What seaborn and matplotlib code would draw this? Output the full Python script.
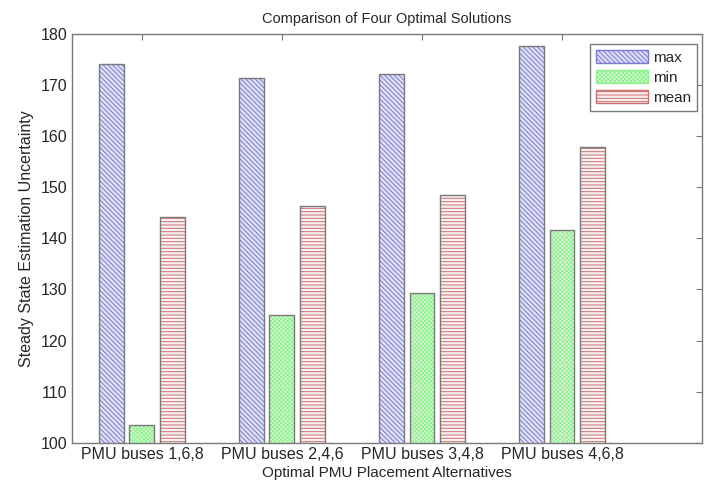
import pandas as pd
import matplotlib.pyplot as plt
import matplotlib.patches as mpatches
import seaborn as sns

alternatives = ["PMU buses 1,6,8", "PMU buses 2,4,6", "PMU buses 3,4,8", "PMU buses 4,6,8"]
max_vals = [174.1, 171.5, 172.1, 177.6]
min_vals = [103.4, 124.9, 129.3, 141.6]
mean_vals = [144.2, 146.3, 148.5, 157.9]
stats = ["max", "min", "mean"]

df = pd.DataFrame({"alt": alternatives, "max": max_vals, "min": min_vals, "mean": mean_vals})
df = df.melt(id_vars="alt", var_name="stat", value_name="value")

face = {"max": "#dcdcf8", "min": "#dcfcd6", "mean": "#fbeeee"}
hatch_col = {"max": "#7a7ad0", "min": "#8ef08e", "mean": "#c87070"}
hatches = {"max": "\\\\\\\\\\\\\\", "min": "xxxxxxxx", "mean": "-----"}

sns.set_style("white")
plt.rcParams["font.family"] = ["Liberation Sans", "DejaVu Sans"]
plt.rcParams["hatch.linewidth"] = 0.7
EDGE = "#7a7a7a"

fig = plt.figure(figsize=(7.12, 4.88), dpi=100)
ax = fig.add_axes([0.101, 0.093, 0.885, 0.837])
sns.barplot(data=df, x="alt", y="value", hue="stat", order=alternatives,
            hue_order=stats, palette=face, width=0.66, gap=0.19,
            errorbar=None, legend=False, ax=ax)

# hatch in its own colour, grey outline drawn on top
for stat, cont in zip(stats, ax.containers):
    for p in cont:
        p.set_hatch(hatches[stat])
        p.set_edgecolor(hatch_col[stat])
        p.set_linewidth(0)
        ax.add_patch(mpatches.Rectangle(p.get_xy(), p.get_width(), p.get_height(),
                                        fill=False, edgecolor=EDGE, lw=1, zorder=3))

ax.set_ylim(100, 180)
ax.set_xlim(-0.5, 4.0)
ax.set_yticks(range(100, 181, 10))
ax.tick_params(direction="in", top=True, right=True, length=4, color=EDGE,
               labelsize=11.5, pad=3)
for s in ax.spines.values():
    s.set_color(EDGE)
    s.set_linewidth(1)

ax.set_title("Comparison of Four Optimal Solutions", fontsize=10.5, pad=8)
ax.set_ylabel("Steady State Estimation Uncertainty", fontsize=11.5, labelpad=5)
ax.set_xlabel("Optimal PMU Placement Alternatives", fontsize=11, labelpad=3)

handles = [mpatches.Patch(facecolor=face[s], edgecolor=hatch_col[s], hatch=hatches[s], label=s)
           for s in stats]
leg = ax.legend(handles=handles, loc="upper right", bbox_to_anchor=(0.992, 0.975),
                borderaxespad=0, fancybox=False, framealpha=1, edgecolor=EDGE,
                fontsize=11, handlelength=3.4, handleheight=0.9, handletextpad=0.3,
                labelspacing=0.35, borderpad=0.4)

fig.savefig("out.png", dpi=100)
